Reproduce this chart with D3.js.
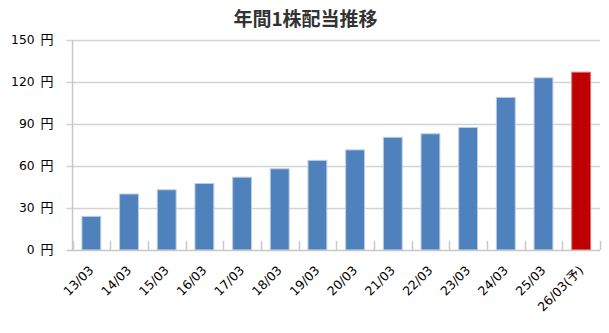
<!DOCTYPE html>
<html><head><meta charset="utf-8">
<script src="https://cdn.jsdelivr.net/npm/d3@7"></script>
<style>
body{margin:0;background:#fff;}
svg{display:block;}
</style></head><body>
<svg id="c" width="609" height="333"></svg>
<script>
const categories = ["13/03","14/03","15/03","16/03","17/03","18/03","19/03","20/03","21/03","22/03","23/03","24/03","25/03","26/03(予)"];
const dividends = [24,40,43,47.5,52,58,64,71.5,80.5,83,87.5,109,123,127];
const forecast = [false,false,false,false,false,false,false,false,false,false,false,false,false,true];
const yTicks = [0,30,60,90,120,150];
const yUnit = "円";
const title = "年間1株配当推移";
const FONT = "'DejaVu Sans','Noto Sans CJK JP',sans-serif";

const svg = d3.select("#c");
const m = {l:72.5, r:600, t:40, b:250};
const x = d3.scaleBand().domain(categories).range([m.l, m.r]).paddingInner(0.5).paddingOuter(0.25);
const xb = d3.scaleBand().domain(categories).range([m.l, m.r]);
const y = d3.scaleLinear().domain([0,150]).range([m.b, m.t]);

svg.append("text").attr("x",305.5).attr("y",26).attr("text-anchor","middle")
  .attr("font-family","'Noto Sans CJK JP',sans-serif")
  .attr("font-size",19).attr("font-weight","bold").attr("fill","#333").text(title);

// gridlines
svg.append("g").selectAll("line").data(yTicks.filter(d=>d>0)).join("line")
  .attr("x1",m.l-6).attr("x2",m.r).attr("y1",d=>Math.round(y(d))+0.5).attr("y2",d=>Math.round(y(d))+0.5)
  .attr("stroke","#d3d3d3").attr("stroke-width",1.5);

// y labels
const yAxis = d3.axisLeft(y).tickValues(yTicks).tickSize(0).tickPadding(19).tickFormat(d=>String(d));
const gy = svg.append("g").attr("transform",`translate(${m.l},0)`).call(yAxis);
gy.select(".domain").remove();
gy.selectAll("text").attr("font-family",FONT).attr("font-size",12.3).attr("fill","#000")
  .each(function(d){
    const t = d3.select(this);
    t.text(null);
    t.append("tspan").text(d + " ");
    t.append("tspan").attr("dx",2).attr("font-family","'Noto Sans CJK JP',sans-serif").attr("font-size",13).text(yUnit);
  });

// bars
svg.append("g").selectAll("rect").data(dividends).join("rect")
  .attr("x",(d,i)=>x(categories[i])).attr("width",x.bandwidth())
  .attr("y",d=>y(d)).attr("height",d=>y(0)-y(d))
  .attr("fill",(d,i)=>forecast[i]?"#c00000":"#4f81bd")
  .attr("stroke",(d,i)=>forecast[i]?"#e07070":"#b9cde5").attr("stroke-width",1);

// y axis line
svg.append("line").attr("x1",m.l).attr("x2",m.l).attr("y1",m.t).attr("y2",m.b)
  .attr("stroke","#c8c8c8").attr("stroke-width",1.5);
// x axis
svg.append("line").attr("x1",m.l-6).attr("x2",m.r).attr("y1",m.b+0.5).attr("y2",m.b+0.5)
  .attr("stroke","#c8c8c8").attr("stroke-width",1.5);
const tickPos = categories.map(c=>xb(c)).concat([m.r]);
svg.append("g").selectAll("line").data(tickPos).join("line")
  .attr("x1",d=>Math.round(d)+0.5).attr("x2",d=>Math.round(d)+0.5).attr("y1",m.b-9).attr("y2",m.b)
  .attr("stroke","#c8c8c8").attr("stroke-width",1.5);

// x labels
const xAxis = d3.axisBottom(xb).tickSize(0).tickPadding(0);
const gx = svg.append("g").attr("transform",`translate(0,${m.b})`).call(xAxis);
gx.select(".domain").remove();
gx.selectAll("text").attr("font-family",FONT).attr("font-size",12.5).attr("fill","#000")
  .attr("text-anchor","end").attr("dy",0).attr("y",0)
  .attr("transform","translate(3,21) rotate(-45)");
</script></body></html>
